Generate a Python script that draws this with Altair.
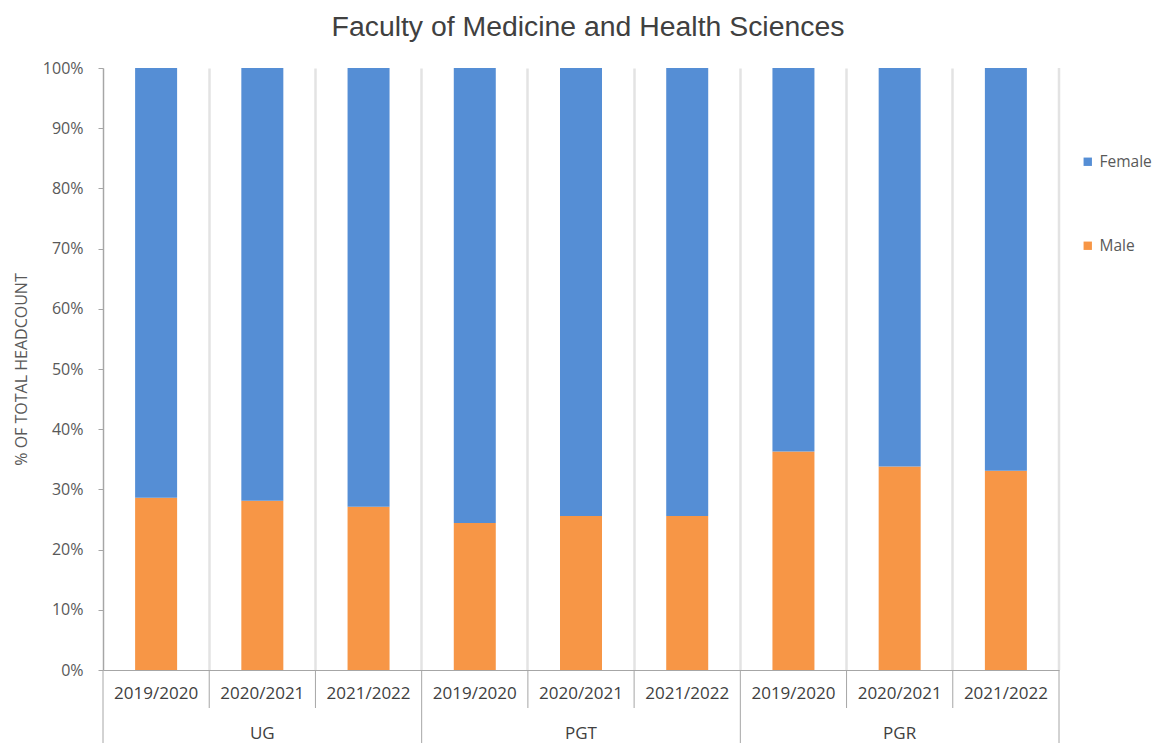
import altair as alt
import pandas as pd

groups = ["UG", "UG", "UG", "PGT", "PGT", "PGT", "PGR", "PGR", "PGR"]
years = ["2019/2020", "2020/2021", "2021/2022"] * 3
male_pct = [28.6, 28.1, 27.1, 24.4, 25.6, 25.6, 36.3, 33.8, 33.1]
female_pct = [71.4, 71.9, 72.9, 75.6, 74.4, 74.4, 63.7, 66.2, 66.9]
group_names = ["UG", "PGT", "PGR"]

W, H = 956, 602
BLUE, ORANGE = "#558ed5", "#f79646"
FONT = "Open Sans"
TXT = "#595959"

cats = [f"{g}|{y}" for g, y in zip(groups, years)]

rows = []
for c, m, f in zip(cats, male_pct, female_pct):
    rows.append({"cat": c, "gender": "Male", "value": m / 100, "ord": 0})
    rows.append({"cat": c, "gender": "Female", "value": f / 100, "ord": 1})
df = pd.DataFrame(rows)

xscale = alt.Scale(domain=cats, paddingInner=0, paddingOuter=0)

bars = alt.Chart(df).mark_bar(size=42).encode(
    x=alt.X("cat:N", scale=xscale, sort=cats,
            axis=alt.Axis(title=None, labels=False, ticks=False, grid=True,
                          bandPosition=0, gridColor="#e3e3e3", gridWidth=2.5,
                          domain=True, domainColor="#a6a6a6", domainWidth=1)),
    y=alt.Y("value:Q", stack="zero",
            scale=alt.Scale(domain=[0, 1], nice=False),
            axis=alt.Axis(title="% OF TOTAL HEADCOUNT", format=".0%",
                          values=[i / 10 for i in range(11)], grid=False,
                          tickSize=5, tickColor="#a6a6a6", domainColor="#a6a6a6",
                          labelPadding=15, labelFont=FONT, labelFontSize=16,
                          labelColor=TXT, titleFont=FONT, titleFontSize=16,
                          titleFontWeight="normal", titleColor=TXT,
                          titleAngle=270, titleX=-82, titleY=H / 2,
                          titleAlign="center", titleBaseline="middle")),
    color=alt.Color("gender:N",
                    scale=alt.Scale(domain=["Female", "Male"], range=[BLUE, ORANGE]),
                    legend=alt.Legend(title=None, orient="none", legendX=977, legendY=86,
                                      symbolType="square", symbolSize=70,
                                      symbolStrokeWidth=0, rowPadding=67,
                                      labelOffset=4,
                                      labelFont=FONT, labelFontSize=15.5,
                                      labelColor=TXT, labelLimit=200)),
    order=alt.Order("ord:Q"),
)

right_edge = alt.Chart(pd.DataFrame({"a": [0]})).mark_rule(
    color="#e3e3e3", strokeWidth=2.5).encode(
    x=alt.value(W), y=alt.value(0), y2=alt.value(H))

short_seps = alt.Chart(pd.DataFrame({"cat": [c for i, c in enumerate(cats) if i % 3 != 0]})).mark_rule(
    color="#a6a6a6", strokeWidth=1).encode(
    x=alt.X("cat:N", scale=xscale, sort=cats, bandPosition=0),
    y=alt.value(H), y2=alt.value(640))
long_seps = alt.Chart(pd.DataFrame({"cat": [c for i, c in enumerate(cats) if i % 3 == 0]})).mark_rule(
    color="#a6a6a6", strokeWidth=1).encode(
    x=alt.X("cat:N", scale=xscale, sort=cats, bandPosition=0),
    y=alt.value(H), y2=alt.value(690))
end_sep = alt.Chart(pd.DataFrame({"a": [0]})).mark_rule(
    color="#a6a6a6", strokeWidth=1).encode(
    x=alt.value(W), y=alt.value(H), y2=alt.value(690))

year_text = alt.Chart(pd.DataFrame({"cat": cats, "year": years})).mark_text(
    font=FONT, fontSize=17, color="#404040", baseline="middle").encode(
    x=alt.X("cat:N", scale=xscale, sort=cats),
    y=alt.value(626),
    text="year:N")

group_text = alt.Chart(pd.DataFrame({"cat": [cats[1], cats[4], cats[7]],
                                     "grp": group_names})).mark_text(
    font=FONT, fontSize=17, color="#404040", baseline="middle").encode(
    x=alt.X("cat:N", scale=xscale, sort=cats),
    y=alt.value(666),
    text="grp:N")

chart = alt.layer(right_edge, bars, short_seps, long_seps, end_sep, year_text, group_text).properties(
    width=W, height=H,
    title=alt.TitleParams("Faculty of Medicine and Health Sciences", font="Liberation Sans",
                          fontSize=28.4, fontWeight="normal", color="#404040",
                          anchor="middle", offset=18, dx=7),
    autosize=alt.AutoSizeParams(type="none"),
    padding={"left": 95, "top": 60, "right": 93, "bottom": 90},
).configure_view(stroke=None)

chart.save("out.html", embed_options={"renderer": "svg", "actions": False})
